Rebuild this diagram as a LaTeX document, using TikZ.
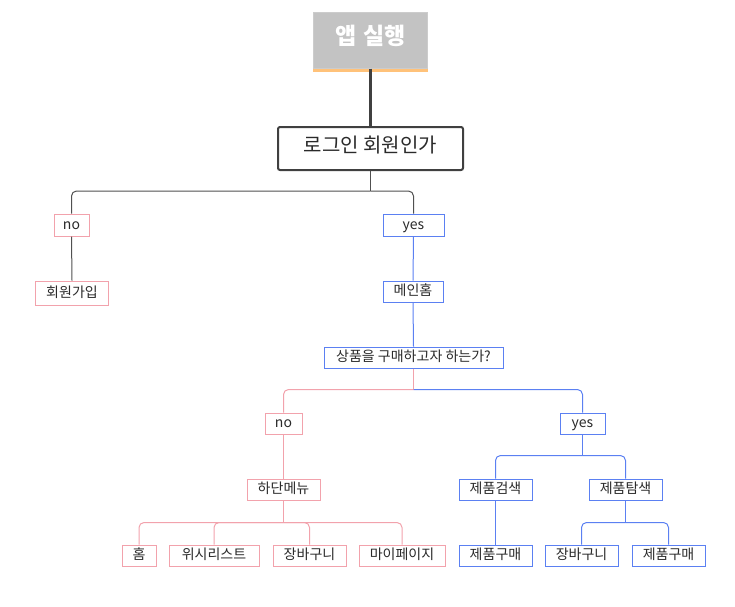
\documentclass[tikz,border=0pt]{standalone}
\usepackage{fontspec}
\setmainfont{Noto Sans CJK KR}
\definecolor{pinkc}{HTML}{F2A2AC}
\definecolor{bluec}{HTML}{5B80F2}
\definecolor{linec}{HTML}{505050}
\definecolor{txtc}{HTML}{2A2A2A}
\definecolor{rootfill}{HTML}{C3C3C3}
\definecolor{stripe}{HTML}{FFC27A}
\tikzset{
  box/.style={draw, line width=1pt, fill=white, inner sep=0pt, text=txtc,
    font=\fontsize{14}{14}\selectfont, text height=0.92em, text depth=0.04em,
    minimum height=21pt},
  pinkbox/.style={box, draw=pinkc},
  bluebox/.style={box, draw=bluec},
  glink/.style={draw=linec, line width=1pt},
  plink/.style={draw=pinkc, line width=1pt},
  blink/.style={draw=bluec, line width=1pt},
  elbow/.style={rounded corners=5pt},
}
\begin{document}
\begin{tikzpicture}[x=1pt,y=-1pt]
\useasboundingbox (0,0) rectangle (735,606);

% start box
\node[fill=rootfill, draw=rootfill!85!white, line width=1pt, minimum width=114pt, minimum height=56pt,
  inner sep=0pt, text=white, font=\fontsize{23}{23}\selectfont\bfseries,
  text height=0.9em, text depth=0.04em] (run) at (370.5,40) {앱\hspace{7pt}실행};
\draw[stripe, line width=3pt] ([yshift=-1.5pt]run.south west) -- ([yshift=-1.5pt]run.south east);

% first question
\node[draw=linec!80!black, line width=2pt, rounded corners=2pt, fill=white, minimum width=185pt,
  minimum height=43pt, inner sep=0pt, text=txtc, font=\fontsize{20}{20}\selectfont,
  text height=0.9em, text depth=0.04em] (login) at (370.5,148.5) {로그인 회원인가};
\draw[draw=linec!80!black, line width=3pt] (run.south) -- (login.north);

\node[pinkbox, minimum width=35pt, minimum height=22pt] (no1) at (71.5,225) {no};
\node[bluebox, minimum width=61pt, minimum height=22pt] (yes1) at (413.5,225) {yes};
\node[pinkbox, minimum width=73pt, minimum height=24pt] (join) at (72,293) {회원가입};
\node[bluebox, minimum width=60pt] (mainhome) at (413,291.5) {메인홈};
\node[bluebox, minimum width=179pt] (buyq) at (413.5,357.5) {상품을 구매하고자 하는가?};

\node[pinkbox, minimum width=37pt] (no2) at (283.5,423.5) {no};
\node[bluebox, minimum width=45pt] (yes2) at (582.5,423.5) {yes};

\node[pinkbox, minimum width=73pt] (menu) at (283.5,489.5) {하단메뉴};
\node[pinkbox, minimum width=34pt] (home) at (139,555.5) {홈};
\node[pinkbox, minimum width=90pt] (wish) at (214,555.5) {위시리스트};
\node[pinkbox, minimum width=73pt] (cart1) at (309.5,555.5) {장바구니};
\node[pinkbox, minimum width=86pt] (mypage) at (402,555.5) {마이페이지};

\node[bluebox, minimum width=73pt] (search) at (495.5,489.5) {제품검색};
\node[bluebox, minimum width=73pt] (explore) at (625.5,489.5) {제품탐색};
\node[bluebox, minimum width=73pt] (buy1) at (495.5,555.5) {제품구매};
\node[bluebox, minimum width=73pt] (cart2) at (581.5,555.5) {장바구니};
\node[bluebox, minimum width=73pt] (buy2) at (668.5,555.5) {제품구매};

% connectors
\draw[glink] (login.south) -- ++(0,20) coordinate (j1);
\draw[glink, elbow] (j1) -| (no1.north);
\draw[glink, elbow] (j1) -| (yes1.north);
\draw[glink] (no1.south) -- (join.north);
\draw[blink] (yes1.south) -- (mainhome.north);
\draw[blink] (mainhome.south) -- (buyq.north);

\draw[plink] (buyq.south) -- ++(0,21) coordinate (j2);
\draw[plink, elbow] (j2) -| (no2.north);
\draw[blink, elbow] (j2) -| (yes2.north);

\draw[plink] (no2.south) -- (menu.north);
\draw[plink] (menu.south) -- ++(0,22) coordinate (j3);
\draw[plink, elbow] (j3) -| (home.north);
\draw[plink, elbow] (j3) -| (wish.north);
\draw[plink, elbow] (j3) -| (cart1.north);
\draw[plink, elbow] (j3) -| (mypage.north);

\draw[blink] (yes2.south) -- ++(0,21) coordinate (j4);
\draw[blink, elbow] (j4) -| (search.north);
\draw[blink, elbow] (j4) -| (explore.north);
\draw[blink] (search.south) -- (buy1.north);
\draw[blink] (explore.south) -- ++(0,22) coordinate (j5);
\draw[blink, elbow] (j5) -| (cart2.north);
\draw[blink, elbow] (j5) -| (buy2.north);
\end{tikzpicture}
\end{document}
